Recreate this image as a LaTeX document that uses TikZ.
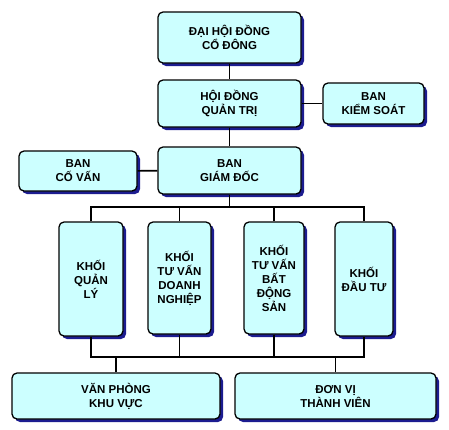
\documentclass[tikz,border=0pt]{standalone}
\usepackage{fontspec}
\setmainfont{Liberation Sans}
\usetikzlibrary{shadows}
\definecolor{boxcyan}{HTML}{CCFFFF}
\definecolor{shadowblue}{HTML}{1C1C90}

\begin{document}
\begin{tikzpicture}[x=1pt,y=-1pt,line width=1.6pt,
  box/.style={draw=black, line width=1.3pt, rounded corners=5pt, fill=boxcyan,
    align=center, inner sep=1pt,
    font=\bfseries\fontsize{11.5}{14}\selectfont,
    drop shadow={shadow xshift=3pt, shadow yshift=-3pt, fill=shadowblue, opacity=1}}]
\useasboundingbox (0,0) rectangle (449,429);

\node[box, minimum width=143pt, minimum height=51pt] (dhd) at (229.5,37.5) {ĐẠI HỘI ĐỒNG\\CỔ ĐÔNG};
\node[box, minimum width=143pt, minimum height=47pt] (hdqt) at (229.5,103.5) {HỘI ĐỒNG\\QUẢN TRỊ};
\node[box, minimum width=101pt, minimum height=41pt] (bks) at (373.5,103.5) {BAN\\KIỂM SOÁT};
\node[box, minimum width=143pt, minimum height=47pt] (bgd) at (229.5,170.5) {BAN\\GIÁM ĐỐC};
\node[box, minimum width=118pt, minimum height=40pt] (bcv) at (78,171) {BAN\\CỐ VẤN};

\node[box, minimum width=64pt, minimum height=114pt] (kql) at (91,279) {KHỐI\\QUẢN\\LÝ};
\node[box, minimum width=63pt, minimum height=112pt] (ktvdn) at (179.5,278) {KHỐI\\TƯ VẤN\\DOANH\\NGHIỆP};
\node[box, minimum width=60pt, minimum height=112pt] (ktvbds) at (274,278) {KHỐI\\TƯ VẤN\\BẤT\\ĐỘNG\\SẢN};
\node[box, minimum width=58pt, minimum height=114pt] (kdt) at (364,279) {KHỐI\\ĐẦU TƯ};

\node[box, minimum width=208pt, minimum height=46pt] (vpkv) at (116,396) {VĂN PHÒNG\\KHU VỰC};
\node[box, minimum width=201pt, minimum height=46pt] (dvtv) at (335.5,396) {ĐƠN VỊ\\THÀNH VIÊN};

\coordinate (bustop) at (229.5,207);
\coordinate (buslow) at (229.5,357);

\draw (dhd) -- (hdqt);
\draw (hdqt) -- (bgd);
\draw (hdqt) -- (bks);
\draw (bgd) -- (bcv);
\draw (bgd) -- (bustop);
\draw (kql) |- (bustop) -| (kdt);
\draw (ktvdn) -- (ktvdn |- bustop);
\draw (ktvbds) -- (ktvbds |- bustop);
\draw (kql) |- (buslow) -| (kdt);
\draw (ktvdn) -- (ktvdn |- buslow);
\draw (ktvbds) -- (ktvbds |- buslow);
\draw (vpkv) -- (vpkv |- buslow);
\draw (dvtv) -- (dvtv |- buslow);
\end{tikzpicture}
\end{document}
